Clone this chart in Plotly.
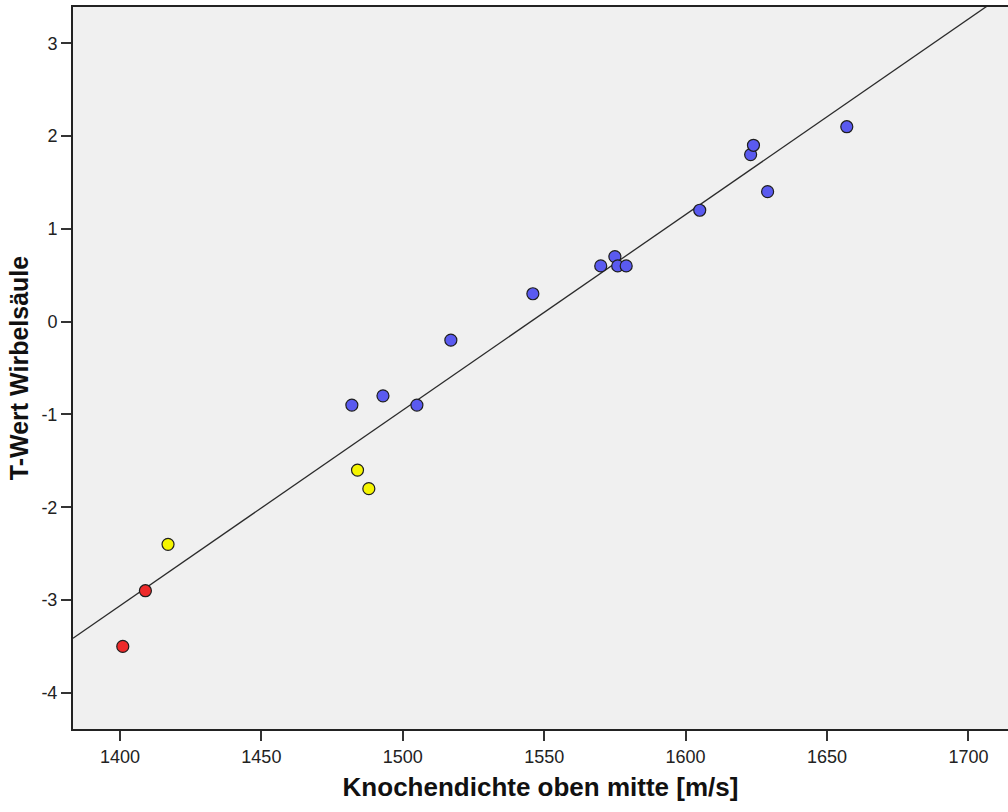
import numpy as np
import plotly.graph_objects as go

# Data
red_x = [1401, 1409]
red_y = [-3.5, -2.9]
yellow_x = [1417, 1484, 1488]
yellow_y = [-2.4, -1.6, -1.8]
blue_x = [1482, 1493, 1505, 1517, 1546, 1570, 1575, 1576, 1579, 1605, 1623, 1624, 1629, 1657]
blue_y = [-0.9, -0.8, -0.9, -0.2, 0.3, 0.6, 0.7, 0.6, 0.6, 1.2, 1.8, 1.9, 1.4, 2.1]

x_range = [1383.4, 1714.0]
y_range = [-4.39, 3.39]
x_ticks = [1400, 1450, 1500, 1550, 1600, 1650, 1700]
y_ticks = [-4, -3, -2, -1, 0, 1, 2, 3]
y_ticklabels = ["-4", "-3", "-2", "-1", "0", "1", "2", "3"]

# Fit line (least squares over all points)
all_x = np.array(red_x + yellow_x + blue_x, dtype=float)
all_y = np.array(red_y + yellow_y + blue_y, dtype=float)
slope, intercept = np.polyfit(all_x, all_y, 1)
line_x = np.array(x_range)
line_y = intercept + slope * line_x

fig = go.Figure()
fig.add_trace(go.Scatter(x=line_x, y=line_y, mode="lines",
                         line=dict(color="#2b2b2b", width=1.3), hoverinfo="skip"))

marker_line = dict(color="#1e1e1e", width=1.2)
fig.add_trace(go.Scatter(x=blue_x, y=blue_y, mode="markers",
                         marker=dict(color="#5a5af0", size=12, line=marker_line)))
fig.add_trace(go.Scatter(x=yellow_x, y=yellow_y, mode="markers",
                         marker=dict(color="#f5f500", size=12, line=marker_line)))
fig.add_trace(go.Scatter(x=red_x, y=red_y, mode="markers",
                         marker=dict(color="#ee2a2a", size=12, line=marker_line)))

fig.update_layout(
    width=1008, height=812,
    margin=dict(l=73, r=0, t=7, b=83),
    plot_bgcolor="#f0f0f0", paper_bgcolor="white",
    showlegend=False,
    font=dict(family="Liberation Sans, Arial, sans-serif", color="#222"),
)
fig.update_xaxes(
    range=x_range, tickvals=x_ticks, ticks="outside", ticklen=10, tickwidth=2,
    tickcolor="#333", showline=True, linecolor="#222", linewidth=2, mirror=True,
    showgrid=False, zeroline=False, tickfont=dict(size=18, color="#222"),
    title=dict(text="<b>Knochendichte oben mitte [m/s]</b>",
               font=dict(size=26, color="#111"), standoff=12),
)
fig.update_yaxes(
    range=y_range, tickvals=y_ticks, ticktext=y_ticklabels, ticks="outside",
    ticklen=10, tickwidth=2,
    tickcolor="#333", showline=True, linecolor="#222", linewidth=2,
    showgrid=False, zeroline=False, tickfont=dict(size=18, color="#222"),
    title=dict(text="<b>T-Wert Wirbelsäule</b>",
               font=dict(size=25, color="#111"), standoff=6),
)

fig.write_html("out.html", config={"displayModeBar": False})

# remove default page margin so the figure sits at the window origin
with open("out.html", encoding="utf-8") as f:
    html = f.read()
html = html.replace("<body>", '<body style="margin:0;padding:0;">', 1)
html = html.replace("<head>", "<head><style>html,body{margin:0;padding:0;}</style>", 1)
with open("out.html", "w", encoding="utf-8") as f:
    f.write(html)
